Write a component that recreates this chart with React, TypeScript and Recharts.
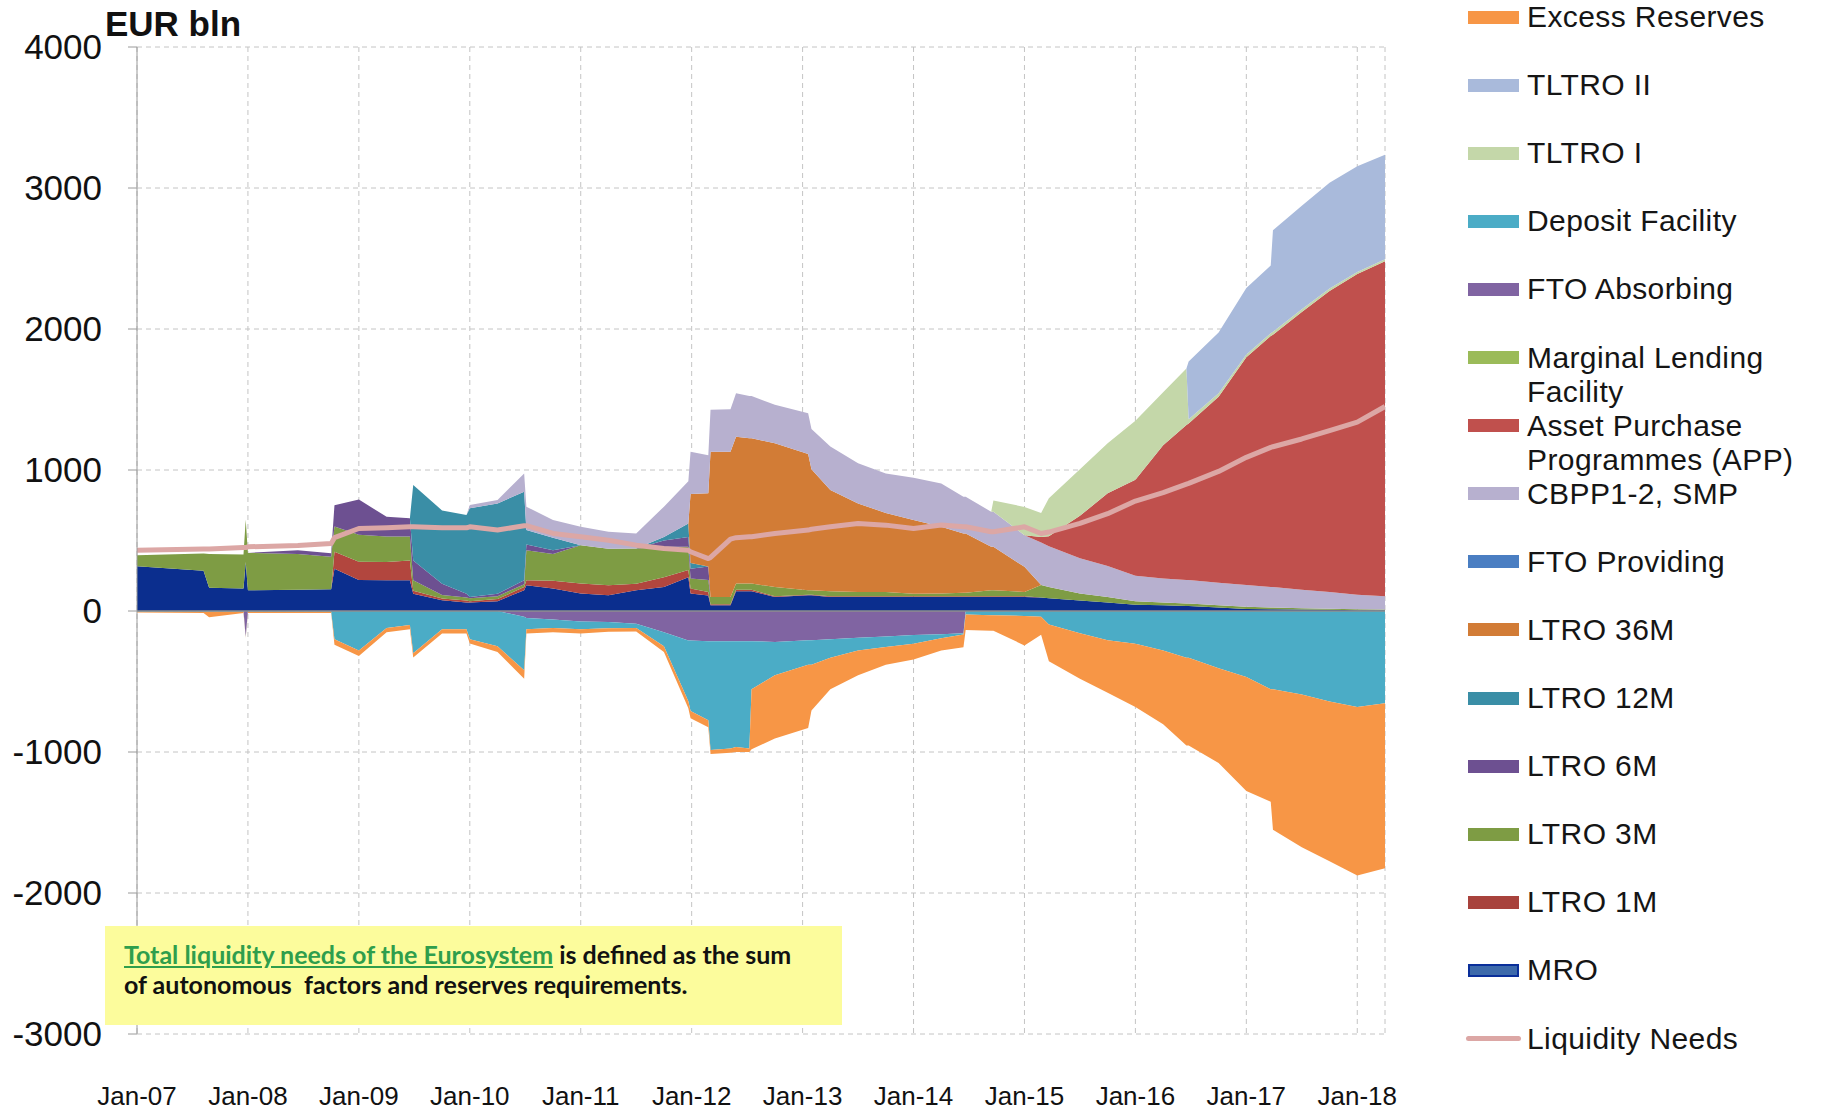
import { ComposedChart, Area, Line, XAxis, YAxis, CartesianGrid, ReferenceLine } from 'recharts'

// dates as fractional years at the breakpoints
const DATES = [
  2007.0, 2007.6, 2007.65, 2007.96, 2007.98, 2008.0, 2008.45, 2008.75, 2008.78, 2009.0,
  2009.25, 2009.46, 2009.49, 2009.75, 2009.97, 2010.0, 2010.25, 2010.49, 2010.51, 2010.75,
  2011.0, 2011.25, 2011.5, 2011.75, 2011.97, 2011.99, 2012.15, 2012.17, 2012.35, 2012.4,
  2012.52, 2012.54, 2012.75, 2013.05, 2013.08, 2013.25, 2013.5, 2013.75, 2014.0, 2014.25,
  2014.45, 2014.47, 2014.7, 2014.72, 2015.0, 2015.15, 2015.22, 2015.5, 2015.75, 2016.0,
  2016.25, 2016.46, 2016.48, 2016.75, 2017.0, 2017.22, 2017.24, 2017.5, 2017.75, 2018.0,
  2018.25,
]

// liquidity providing (EUR bln)
const MRO = [
  318, 285, 165, 160, 348, 147, 150, 155, 300, 220,
  218, 218, 123, 76, 60, 60, 70, 147, 182, 160,
  125, 112, 147, 170, 240, 125, 110, 40, 40, 140,
  140, 140, 100, 111, 111, 100, 100, 100, 100, 100,
  100, 100, 100, 100, 100, 95, 90, 75, 60, 45,
  40, 35, 35, 25, 15, 12, 12, 10, 8, 6,
  5,
]
const LTRO_1M = [
  0, 0, 0, 0, 0, 0, 0, 0, 120, 130,
  130, 140, 20, 12, 15, 10, 15, 23, 36, 55,
  70, 70, 47, 70, 50, 35, 25, 7, 7, 10,
  10, 10, 5, 5, 5, 5, 5, 5, 5, 5,
  5, 5, 5, 5, 5, 0, 0, 0, 0, 0,
  0, 0, 0, 0, 0, 0, 0, 0, 0, 0,
  0,
]
const LTRO_3M = [
  78, 123, 240, 240, 300, 265, 255, 230, 180, 190,
  180, 170, 75, 25, 20, 20, 20, 20, 213, 190,
  272, 260, 250, 215, 165, 70, 85, 53, 53, 45,
  45, 45, 65, 31, 31, 35, 30, 30, 18, 20,
  25, 25, 42, 42, 30, 90, 80, 50, 40, 25,
  20, 18, 18, 15, 15, 13, 13, 10, 8, 6,
  5,
]
const LTRO_6M = [
  0, 0, 0, 0, 0, 0, 25, 25, 150, 250,
  140, 130, 140, 80, 28, 10, 18, 28, 40, 25,
  0, 0, 0, 45, 70, 70, 95, 0, 0, 0,
  0, 0, 0, 0, 0, 0, 0, 0, 0, 0,
  0, 0, 0, 0, 0, 0, 0, 0, 0, 0,
  0, 0, 0, 0, 0, 0, 0, 0, 0, 0,
  0,
]
const LTRO_12M = [
  0, 0, 0, 0, 0, 0, 0, 0, 0, 0,
  0, 0, 535, 520, 557, 628, 640, 628, 103, 90,
  0, 0, 0, 25, 95, 40, 0, 0, 0, 0,
  0, 0, 0, 0, 0, 0, 0, 0, 0, 0,
  0, 0, 0, 0, 0, 0, 0, 0, 0, 0,
  0, 0, 0, 0, 0, 0, 0, 0, 0, 0,
  0,
]
const LTRO_36M = [
  0, 0, 0, 0, 0, 0, 0, 0, 0, 0,
  0, 0, 0, 0, 0, 0, 0, 0, 0, 0,
  0, 0, 0, 0, 0, 490, 520, 1030, 1030, 1040,
  1030, 1030, 1020, 966, 858, 718, 628, 560, 522, 472,
  420, 420, 308, 308, 178, 0, 0, 0, 0, 0,
  0, 0, 0, 0, 0, 0, 0, 0, 0, 0,
  0,
]
const FTO_PROVIDING = DATES.map(() => 0)
const CBPP_SMP = [
  0, 0, 0, 0, 0, 0, 0, 0, 0, 0,
  0, 0, 0, 0, 0, 23, 24, 130, 166, 125,
  130, 120, 106, 215, 300, 300, 270, 297, 300, 310,
  300, 300, 272, 290, 285, 308, 285, 280, 300, 308,
  260, 260, 249, 249, 225, 300, 290, 250, 220, 180,
  170, 167, 167, 160, 155, 145, 145, 130, 119, 103,
  95,
]
const APP = [
  0, 0, 0, 0, 0, 0, 0, 0, 0, 0,
  0, 0, 0, 0, 0, 0, 0, 0, 0, 0,
  0, 0, 0, 0, 0, 0, 0, 0, 0, 0,
  0, 0, 0, 0, 0, 0, 0, 0, 0, 0,
  0, 0, 0, 0, 0, 40, 70, 300, 515, 680,
  946, 1100, 1110, 1320, 1615, 1780, 1790, 1970, 2135, 2275,
  2375,
]
const MARGINAL_LENDING = DATES.map(() => 0)
const TLTRO_I = [
  0, 0, 0, 0, 0, 0, 0, 0, 0, 0,
  0, 0, 0, 0, 0, 0, 0, 0, 0, 0,
  0, 0, 0, 0, 0, 0, 0, 0, 0, 0,
  0, 0, 0, 0, 0, 0, 0, 0, 0, 0,
  0, 0, 0, 80, 200, 170, 270, 330, 355, 420,
  376, 400, 30, 25, 20, 20, 20, 20, 18, 15,
  15,
]
const TLTRO_II = [
  0, 0, 0, 0, 0, 0, 0, 0, 0, 0,
  0, 0, 0, 0, 0, 0, 0, 0, 0, 0,
  0, 0, 0, 0, 0, 0, 0, 0, 0, 0,
  0, 0, 0, 0, 0, 0, 0, 0, 0, 0,
  0, 0, 0, 0, 0, 0, 0, 0, 0, 0,
  0, 0, 410, 430, 470, 480, 720, 735, 750, 750,
  740,
]

// liquidity absorbing (EUR bln)
const FTO_ABSORBING = [
  0, 0, 0, 0, -180, 0, 0, 0, 0, 0,
  0, 0, 0, 0, 0, 0, 0, -40, -50, -60,
  -75, -78, -90, -150, -210, -210, -215, -215, -215, -215,
  -215, -215, -219, -207, -207, -200, -190, -180, -170, -165,
  -157, 0, 0, 0, 0, 0, 0, 0, 0, 0,
  0, 0, 0, 0, 0, 0, 0, 0, 0, 0,
  0,
]
const DEPOSIT = [
  -5, -5, -5, -5, -5, -5, -5, -5, -200, -280,
  -120, -100, -300, -130, -130, -200, -250, -380, -80, -60,
  -55, -45, -30, -100, -430, -500, -560, -770, -760, -750,
  -760, -340, -236, -174, -174, -131, -91, -76, -62, -29,
  -10, -25, -30, -30, -35, -40, -95, -157, -207, -232,
  -281, -331, -331, -406, -468, -555, -555, -593, -642, -680,
  -655,
]
const EXCESS = [
  -5, -10, -40, -10, -5, -10, -10, -10, -40, -40,
  -30, -30, -30, -30, -30, -30, -40, -60, -30, -30,
  -30, -25, -25, -40, -50, -50, -50, -30, -30, -35,
  -25, -425, -449, -448, -324, -224, -175, -125, -112, -87,
  -90, -110, -110, -110, -209, -129, -261, -323, -373, -448,
  -523, -623, -623, -672, -809, -797, -996, -1083, -1133, -1195,
  -1170,
]

const NEEDS = [
  431, 440, 440, 450, 450, 455, 465, 478, 520, 585,
  590, 597, 597, 590, 590, 597, 574, 605, 605, 550,
  526, 502, 467, 443, 431, 420, 372, 380, 510, 520,
  526, 526, 550, 574, 580, 597, 621, 609, 585, 610,
  597, 597, 562, 562, 597, 550, 560, 621, 690, 780,
  840, 900, 905, 990, 1090, 1160, 1165, 1220, 1280, 1340,
  1450,
]

const X_TICKS = [2007, 2008, 2009, 2010, 2011, 2012, 2013, 2014, 2015, 2016, 2017, 2018]
const Y_TICKS = [-3000, -2000, -1000, 0, 1000, 2000, 3000, 4000]

// stacking order: first entry sits next to zero
const POSITIVE = [
  { key: 'mro', name: 'MRO', color: '#0b2e8e', values: MRO },
  { key: 'ltro1m', name: 'LTRO 1M', color: '#b2463e', values: LTRO_1M },
  { key: 'ltro3m', name: 'LTRO 3M', color: '#7e9c44', values: LTRO_3M },
  { key: 'ltro6m', name: 'LTRO 6M', color: '#6d5091', values: LTRO_6M },
  { key: 'ltro12m', name: 'LTRO 12M', color: '#3a8ea6', values: LTRO_12M },
  { key: 'ltro36m', name: 'LTRO 36M', color: '#d27c36', values: LTRO_36M },
  { key: 'ftoProv', name: 'FTO Providing', color: '#4a7ec2', values: FTO_PROVIDING },
  { key: 'cbpp', name: 'CBPP1-2, SMP', color: '#b7b0cf', values: CBPP_SMP },
  { key: 'app', name: 'Asset Purchase Programmes (APP)', color: '#c0504d', values: APP },
  { key: 'mlf', name: 'Marginal Lending Facility', color: '#9bbb59', values: MARGINAL_LENDING },
  { key: 'tltro1', name: 'TLTRO I', color: '#c4d7a9', values: TLTRO_I },
  { key: 'tltro2', name: 'TLTRO II', color: '#a9badb', values: TLTRO_II },
]
const NEGATIVE = [
  { key: 'ftoAbs', name: 'FTO Absorbing', color: '#8064a2', values: FTO_ABSORBING },
  { key: 'deposit', name: 'Deposit Facility', color: '#4bacc6', values: DEPOSIT },
  { key: 'excess', name: 'Excess Reserves', color: '#f79646', values: EXCESS },
]

const LEGEND = [
  { lines: ['Excess Reserves'], color: '#f79646' },
  { lines: ['TLTRO II'], color: '#a9badb' },
  { lines: ['TLTRO I'], color: '#c4d7a9' },
  { lines: ['Deposit Facility'], color: '#4bacc6' },
  { lines: ['FTO Absorbing'], color: '#8064a2' },
  { lines: ['Marginal Lending', 'Facility'], color: '#9bbb59' },
  { lines: ['Asset Purchase', 'Programmes (APP)'], color: '#c0504d' },
  { lines: ['CBPP1-2, SMP'], color: '#b7b0cf' },
  { lines: ['FTO Providing'], color: '#4a7ec2' },
  { lines: ['LTRO 36M'], color: '#d27c36' },
  { lines: ['LTRO 12M'], color: '#3a8ea6' },
  { lines: ['LTRO 6M'], color: '#6d5091' },
  { lines: ['LTRO 3M'], color: '#7e9c44' },
  { lines: ['LTRO 1M'], color: '#a8423c' },
  { lines: ['MRO'], color: '#3d6aab', border: '#0a2f9a' },
  { lines: ['Liquidity Needs'], color: '#dca7a5', line: true },
]

const rows = DATES.map((t, i) => {
  const row: Record<string, number> = { t, needs: NEEDS[i] }
  for (const s of POSITIVE) row[s.key] = s.values[i]
  for (const s of NEGATIVE) row[s.key] = s.values[i]
  return row
})

const FONT = '"Liberation Sans", Arial, sans-serif'

const XTick = (props: any) => {
  const { x, payload } = props
  const yy = String(payload.value - 2000).padStart(2, '0')
  return (
    <text x={x} y={1096} textAnchor="middle" dominantBaseline="central" fontSize={26} fontFamily={FONT} fill="#111">
      {`Jan-${yy}`}
    </text>
  )
}

const YTick = (props: any) => {
  const { y, payload } = props
  return (
    <text x={102} y={y - 1} textAnchor="end" dominantBaseline="central" fontSize={35} fontFamily={FONT} fill="#111">
      {payload.value}
    </text>
  )
}

function ChartLegend() {
  return (
    <div style={{ position: 'absolute', left: 0, top: 0, fontFamily: FONT, fontSize: 30, letterSpacing: 0.4, color: '#151515' }}>
      {LEGEND.map((item, i) => {
        const cy = 17 + i * 68.1
        return (
          <div key={item.lines[0]}>
            {item.line ? (
              <div style={{ position: 'absolute', left: 1466, top: cy - 2.5, width: 55, height: 5, borderRadius: 3, background: item.color }} />
            ) : (
              <div
                style={{
                  position: 'absolute',
                  left: 1468,
                  top: cy - 6.5,
                  width: 51,
                  height: 13,
                  boxSizing: 'border-box',
                  background: item.color,
                  border: item.border ? `2px solid ${item.border}` : 'none',
                }}
              />
            )}
            {item.lines.map((line, j) => (
              <div
                key={line}
                style={{ position: 'absolute', left: 1527, top: cy - 15 + j * 34, height: 30, lineHeight: '30px', whiteSpace: 'nowrap' }}
              >
                {line}
              </div>
            ))}
          </div>
        )
      })}
    </div>
  )
}

export default function App() {
  return (
    <div style={{ position: 'absolute', left: 0, top: 0, width: 1822, height: 1112, background: '#fff', overflow: 'hidden' }}>
      <ComposedChart width={1822} height={1112} data={rows} margin={{ top: 47, right: 437, bottom: 0, left: 0 }}>
        <CartesianGrid stroke="#c4c4c4" strokeDasharray="5 4" />
        <XAxis
          type="number"
          dataKey="t"
          domain={[2007, 2018.25]}
          ticks={X_TICKS}
          allowDataOverflow
          height={78}
          axisLine={false}
          tickLine={false}
          tick={<XTick />}
        />
        <YAxis
          type="number"
          domain={[-3000, 4000]}
          ticks={Y_TICKS}
          allowDataOverflow
          width={137}
          axisLine={{ stroke: '#9a9a9a' }}
          tickLine={{ stroke: '#9a9a9a' }}
          tickSize={9}
          tick={<YTick />}
        />
        {POSITIVE.map((s) => (
          <Area
            key={s.key}
            type="linear"
            dataKey={s.key}
            name={s.name}
            stackId="pos"
            stroke="none"
            fill={s.color}
            fillOpacity={1}
            isAnimationActive={false}
          />
        ))}
        {NEGATIVE.map((s) => (
          <Area
            key={s.key}
            type="linear"
            dataKey={s.key}
            name={s.name}
            stackId="neg"
            stroke="none"
            fill={s.color}
            fillOpacity={1}
            isAnimationActive={false}
          />
        ))}
        <ReferenceLine y={0} stroke="#8e8e8e" strokeWidth={1.5} />
        <Line
          type="linear"
          dataKey="needs"
          name="Liquidity Needs"
          stroke="#dca7a5"
          strokeWidth={5}
          strokeLinejoin="round"
          dot={false}
          isAnimationActive={false}
        />
      </ComposedChart>

      <div style={{ position: 'absolute', left: 105, top: 6, fontFamily: FONT, fontWeight: 700, fontSize: 35, lineHeight: '35px', color: '#111' }}>
        EUR bln
      </div>

      <div
        style={{
          position: 'absolute',
          left: 105,
          top: 926,
          width: 737,
          height: 99,
          background: '#fcfc9c',
          fontFamily: 'Lato, "Open Sans", sans-serif',
          fontWeight: 700,
          fontSize: 25,
          color: '#111',
          boxSizing: 'border-box',
          paddingLeft: 19,
          paddingTop: 13,
          lineHeight: '30px',
        }}
      >
        <div style={{ whiteSpace: 'nowrap' }}>
          <span style={{ color: '#2f9e4c', textDecoration: 'underline' }}>Total liquidity needs of the Eurosystem</span> is defined as the sum
        </div>
        <div style={{ whiteSpace: 'nowrap' }}>of autonomous&nbsp; factors and reserves requirements.</div>
      </div>

      <ChartLegend />
    </div>
  )
}
